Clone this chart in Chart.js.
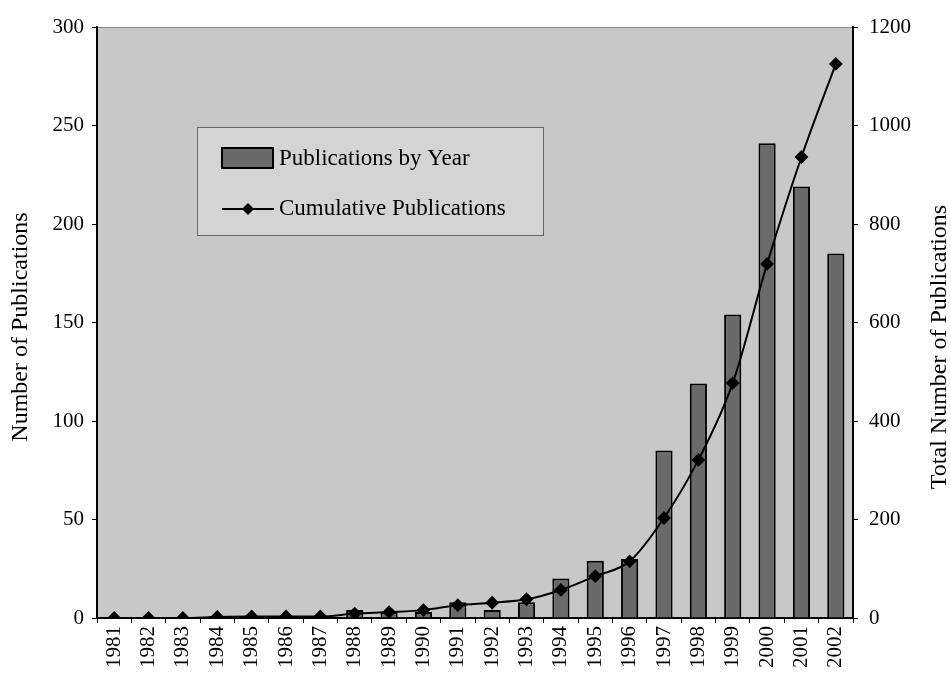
<!DOCTYPE html>
<html>
<head>
  <style>
    body { margin: 0; background: #fff; }
    #wrap { width: 951px; height: 678px; }
  </style>
</head>
<body>
  <div id="wrap"><canvas id="chart" width="951" height="678"></canvas></div>
  <script src="https://cdn.jsdelivr.net/npm/chart.js"></script>
  <script>
    const years = ["1981","1982","1983","1984","1985","1986","1987","1988","1989","1990","1991",
                   "1992","1993","1994","1995","1996","1997","1998","1999","2000","2001","2002"];
    const byYear = [0, 0, 0, 1, 1, 0, 0, 4, 3, 3, 8, 4, 8, 20, 29, 30, 85, 119, 154, 241, 219, 185];
    const cumulative = [0, 0, 0, 2, 3, 3, 3, 9, 12, 16, 26, 31, 38, 57, 85, 115, 203, 321, 477, 719, 936, 1125];
    const leftTitle = "Number of Publications";
    const rightTitle = "Total Number of Publications";

    const serif = "'Liberation Serif', 'DejaVu Serif', serif";

    // gray plot background and frame
    const plotArea = {
      id: "plotArea",
      beforeDraw(chart) {
        const { ctx, chartArea: a } = chart;
        ctx.save();
        ctx.fillStyle = "#c8c8c8";
        ctx.fillRect(a.left, a.top, a.right - a.left, a.bottom - a.top);
        ctx.strokeStyle = "#888";
        ctx.lineWidth = 1;
        ctx.beginPath();
        ctx.moveTo(a.left, a.top + 0.5);
        ctx.lineTo(a.right, a.top + 0.5);
        ctx.stroke();
        ctx.restore();
      }
    };

    function vText(ctx, text, x, y) {
      ctx.save();
      ctx.translate(x, y);
      ctx.rotate(-Math.PI / 2);
      ctx.textAlign = "center";
      ctx.textBaseline = "middle";
      ctx.fillText(text, 0, 0);
      ctx.restore();
    }

    // legend box inside the plot + both axis titles (read bottom to top)
    const boxLegend = {
      id: "boxLegend",
      afterDraw(chart) {
        const { ctx } = chart;
        const x = 197, y = 127, w = 346, h = 108;
        ctx.save();
        ctx.fillStyle = "#d4d4d4";
        ctx.fillRect(x, y, w, h);
        ctx.strokeStyle = "#666";
        ctx.lineWidth = 1;
        ctx.strokeRect(x + 0.5, y + 0.5, w, h);

        const bars = chart.data.datasets[1];
        const line = chart.data.datasets[0];
        // bar swatch
        ctx.fillStyle = "#6a6a6a";
        ctx.fillRect(222, 148, 51, 20);
        ctx.strokeStyle = "#000";
        ctx.lineWidth = 2;
        ctx.strokeRect(222, 148, 51, 20);
        // line swatch
        ctx.beginPath();
        ctx.moveTo(222, 209);
        ctx.lineTo(274, 209);
        ctx.stroke();
        ctx.fillStyle = "#000";
        ctx.beginPath();
        ctx.moveTo(248, 203); ctx.lineTo(254, 209); ctx.lineTo(248, 215); ctx.lineTo(242, 209);
        ctx.closePath();
        ctx.fill();

        ctx.fillStyle = "#000";
        ctx.font = "23px " + serif;
        ctx.textBaseline = "middle";
        ctx.fillText(bars.label, 279, 159);
        ctx.fillText(line.label, 279, 209);

        ctx.font = "24px " + serif;
        vText(ctx, leftTitle, 21, 327);
        vText(ctx, rightTitle, 940, 347);
        ctx.restore();
      }
    };

    const tickFont = { family: serif, size: 21 };
    const tickGrid = { display: true, drawOnChartArea: false, drawTicks: true, tickLength: 5, color: "#000", lineWidth: 1 };

    new Chart(document.getElementById("chart"), {
      data: {
        labels: years,
        datasets: [
          {
            type: "line",
            label: "Cumulative Publications",
            data: cumulative,
            yAxisID: "y1",
            borderColor: "#000",
            borderWidth: 2,
            backgroundColor: "#000",
            pointStyle: "rectRot",
            pointRadius: 5.5,
            pointBackgroundColor: "#000",
            pointBorderColor: "#000",
            cubicInterpolationMode: "monotone",
            order: 0
          },
          {
            type: "bar",
            label: "Publications by Year",
            data: byYear,
            yAxisID: "y",
            backgroundColor: "#6a6a6a",
            borderColor: "#000",
            borderWidth: 2,
            categoryPercentage: 1,
            barPercentage: 0.5,
            order: 1
          }
        ]
      },
      options: {
        responsive: false,
        animation: false,
        layout: { padding: { top: 27, right: 0, left: 0, bottom: 0 } },
        plugins: {
          legend: { display: false },
          tooltip: { enabled: false }
        },
        scales: {
          x: {
            offset: true,
            grid: { ...tickGrid, offset: true },
            border: { color: "#000", width: 2 },
            ticks: { font: tickFont, color: "#000", maxRotation: 90, minRotation: 90, padding: 3 },
            afterFit: s => { s.height = 60; }
          },
          y: {
            position: "left",
            min: 0, max: 300,
            ticks: { stepSize: 50, font: tickFont, color: "#000", padding: 8 },
            grid: tickGrid,
            border: { color: "#000", width: 2 },
            afterFit: s => { s.width = 97; }
          },
          y1: {
            position: "right",
            min: 0, max: 1200,
            ticks: { stepSize: 200, font: tickFont, color: "#000", padding: 11, callback: v => String(v) },
            grid: tickGrid,
            border: { color: "#000", width: 2 },
            afterFit: s => { s.width = 98; }
          }
        }
      },
      plugins: [plotArea, boxLegend]
    });
  </script>
</body>
</html>
